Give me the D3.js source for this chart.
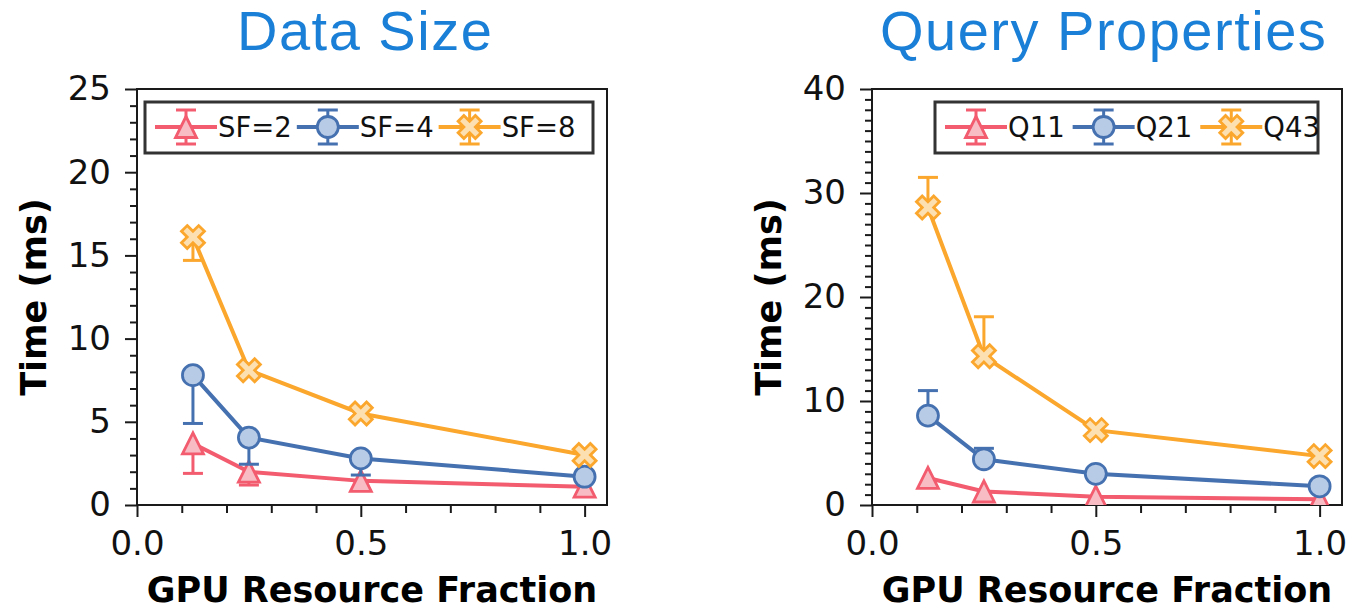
<!DOCTYPE html>
<html>
<head>
<meta charset="utf-8">
<script src="https://cdn.jsdelivr.net/npm/d3@7"></script>
<style>
  body { margin: 0; background: #fff; }
  svg { display: block; }
</style>
</head>
<body>
<svg id="chart" width="1353" height="610"></svg>
<script>
// x positions shared by both panels
const fractions = [0.125, 0.25, 0.5, 1.0];
const xTicks = [0.0, 0.5, 1.0];

// left panel: data size (error bars point down)
const sizeLabels = ["SF=2", "SF=4", "SF=8"];
const sf2 = [3.7, 2.0, 1.45, 1.1];
const sf2Err = [1.8, 0.8, 0, 0];
const sf4 = [7.8, 4.05, 2.8, 1.7];
const sf4Err = [2.9, 1.6, 1.0, 0];
const sf8 = [16.1, 8.1, 5.5, 3.0];
const sf8Err = [1.4, 0, 0, 0];
const sizeTicks = [0, 5, 10, 15, 20, 25];

// right panel: query properties (error bars point up)
const queryLabels = ["Q11", "Q21", "Q43"];
const q11 = [2.6, 1.3, 0.8, 0.55];
const q11Err = [0, 0, 0, 0];
const q21 = [8.6, 4.4, 3.0, 1.8];
const q21Err = [2.4, 1.05, 0, 0];
const q43 = [28.6, 14.3, 7.2, 4.7];
const q43Err = [2.9, 3.8, 0, 0];
const queryTicks = [0, 10, 20, 30, 40];

const styles = [
  { line: "#f25c6e", fill: "#f7bcc4", marker: "tri" },
  { line: "#4671b0", fill: "#b8cbe6", marker: "circle" },
  { line: "#fba62c", fill: "#fde0b2", marker: "x" }
];

const svg = d3.select("#chart");
const plotTop = 89, plotBottom = 505;

function markerPath(type) {
  if (type === "tri") {
    const s = 10.5;
    return `M0,${-s}L${s},${s}L${-s},${s}Z`;
  }
  if (type === "circle") return d3.symbol(d3.symbolCircle, Math.PI * 10.5 * 10.5)();
  return d3.symbol(d3.symbolCross, 330)();
}

function drawMarker(g, type, st, x, y) {
  g.append("path")
    .attr("d", markerPath(type))
    .attr("transform", `translate(${x},${y})` + (type === "x" ? " rotate(45)" : ""))
    .attr("fill", st.fill)
    .attr("stroke", st.line)
    .attr("stroke-width", 2.8)
    .attr("stroke-linejoin", "miter");
}

function drawPanel(cfg) {
  const x = d3.scaleLinear().domain([0, 1.05]).range([cfg.left, cfg.right]);
  const y = d3.scaleLinear().domain([0, cfg.yMax]).range([plotBottom, plotTop]);
  const g = svg.append("g");

  const clipId = "clip-" + cfg.id;
  svg.append("clipPath").attr("id", clipId)
    .append("rect")
    .attr("x", cfg.left).attr("y", plotTop)
    .attr("width", cfg.right - cfg.left).attr("height", plotBottom - plotTop);

  // axes
  const xMinor = d3.range(0, 1.05, 0.1).filter(v => Math.abs(v * 2 - Math.round(v * 2)) > 1e-6);
  g.append("g").attr("transform", `translate(0,${plotBottom})`)
    .call(d3.axisBottom(x).tickValues(xMinor).tickSize(8).tickFormat(""))
    .call(a => a.select(".domain").remove());
  g.append("g").attr("transform", `translate(0,${plotBottom})`)
    .call(d3.axisBottom(x).tickValues(xTicks).tickSize(12).tickPadding(14).tickFormat(d3.format(".1f")))
    .call(a => a.select(".domain").remove());

  const yMinor = d3.range(0, cfg.yMax + 0.5, 1).filter(v => cfg.yTicks.indexOf(v) < 0);
  g.append("g").attr("transform", `translate(${cfg.left},0)`)
    .call(d3.axisLeft(y).tickValues(yMinor).tickSize(7).tickFormat(""))
    .call(a => a.select(".domain").remove());
  g.append("g").attr("transform", `translate(${cfg.left},0)`)
    .call(d3.axisLeft(y).tickValues(cfg.yTicks).tickSize(12).tickPadding(14))
    .call(a => a.select(".domain").remove());

  g.selectAll(".tick line").attr("stroke", "#1a1a1a").attr("stroke-width", 2);
  g.selectAll(".tick text")
    .attr("font-family", "DejaVu Sans").attr("font-size", 34).attr("fill", "#111");

  // frame
  g.append("rect")
    .attr("x", cfg.left).attr("y", plotTop)
    .attr("width", cfg.right - cfg.left).attr("height", plotBottom - plotTop)
    .attr("fill", "none").attr("stroke", "#1a1a1a").attr("stroke-width", 2);

  // series
  const plot = svg.append("g").attr("clip-path", `url(#${clipId})`);
  cfg.series.forEach((vals, si) => {
    const st = styles[si];
    const errs = cfg.errors[si];
    const pts = vals.map((v, i) => ({ x: fractions[i], y: v, e: errs[i] }));

    pts.forEach(p => {
      if (!p.e) return;
      const end = p.y + cfg.errDir * p.e;
      plot.append("line")
        .attr("x1", x(p.x)).attr("x2", x(p.x))
        .attr("y1", y(p.y)).attr("y2", y(end))
        .attr("stroke", st.line).attr("stroke-width", 3);
      plot.append("line")
        .attr("x1", x(p.x) - 10).attr("x2", x(p.x) + 10)
        .attr("y1", y(end)).attr("y2", y(end))
        .attr("stroke", st.line).attr("stroke-width", 3);
    });

    plot.append("path")
      .datum(pts)
      .attr("fill", "none")
      .attr("stroke", st.line)
      .attr("stroke-width", 4)
      .attr("d", d3.line().x(d => x(d.x)).y(d => y(d.y)));

    pts.forEach(p => drawMarker(plot, st.marker, st, x(p.x), y(p.y)));
  });

  // legend
  const lg = svg.append("g");
  lg.append("rect")
    .attr("x", cfg.legend.x).attr("y", 102)
    .attr("width", cfg.legend.w).attr("height", 51)
    .attr("fill", "#fff").attr("stroke", "#333").attr("stroke-width", 3);
  let lx = cfg.legend.x + 10;
  const ly = 127;
  cfg.labels.forEach((lab, si) => {
    const st = styles[si];
    const cx = lx + 31;
    lg.append("line").attr("x1", lx).attr("x2", lx + 62).attr("y1", ly).attr("y2", ly)
      .attr("stroke", st.line).attr("stroke-width", 4);
    lg.append("line").attr("x1", cx).attr("x2", cx).attr("y1", ly - 17).attr("y2", ly + 17)
      .attr("stroke", st.line).attr("stroke-width", 3);
    [ly - 17, ly + 17].forEach(cy => lg.append("line")
      .attr("x1", cx - 10).attr("x2", cx + 10).attr("y1", cy).attr("y2", cy)
      .attr("stroke", st.line).attr("stroke-width", 3));
    drawMarker(lg, st.marker, st, cx, ly);
    const t = lg.append("text")
      .attr("x", lx + 63).attr("y", ly + 10)
      .attr("font-family", "DejaVu Sans").attr("font-size", 27.5).attr("fill", "#111")
      .text(lab);
    lx = lx + 63 + t.node().getComputedTextLength() + cfg.legend.gap;
  });

  // titles and labels
  svg.append("text")
    .attr("x", cfg.titleX).attr("y", 50)
    .attr("font-family", "Liberation Sans, Arial").attr("font-size", 56)
    .attr("letter-spacing", 1.5).attr("fill", "#1a7fd6")
    .text(cfg.title);
  svg.append("text")
    .attr("transform", `translate(${cfg.left - 91},${(plotTop + plotBottom) / 2}) rotate(-90)`)
    .attr("text-anchor", "middle")
    .attr("font-family", "DejaVu Sans").attr("font-weight", "bold").attr("font-size", 35)
    .attr("fill", "#000")
    .text("Time (ms)");
  svg.append("text")
    .attr("x", (cfg.left + cfg.right) / 2).attr("y", 602)
    .attr("text-anchor", "middle")
    .attr("font-family", "DejaVu Sans").attr("font-weight", "bold").attr("font-size", 35)
    .attr("fill", "#000")
    .text("GPU Resource Fraction");
}

drawPanel({
  id: "size", left: 137, right: 607, yMax: 25, yTicks: sizeTicks,
  series: [sf2, sf4, sf8], errors: [sf2Err, sf4Err, sf8Err], errDir: -1,
  labels: sizeLabels, legend: { x: 145, w: 448, gap: 5 },
  title: "Data Size", titleX: 237
});

drawPanel({
  id: "query", left: 872, right: 1342, yMax: 40, yTicks: queryTicks,
  series: [q11, q21, q43], errors: [q11Err, q21Err, q43Err], errDir: 1,
  labels: queryLabels, legend: { x: 935, w: 383, gap: 8 },
  title: "Query Properties", titleX: 880
});
</script>
</body>
</html>
